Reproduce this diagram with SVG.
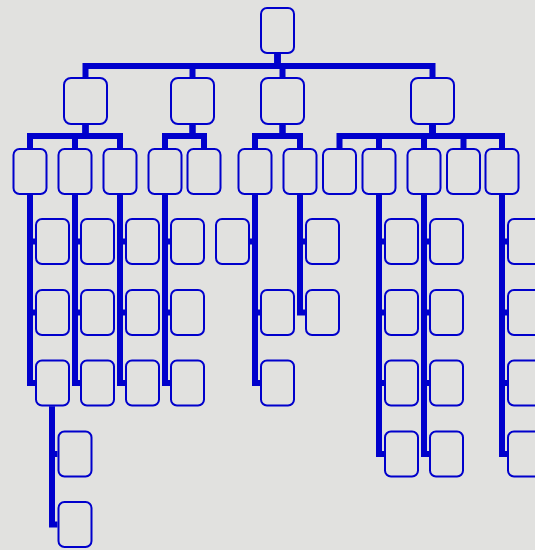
<svg xmlns="http://www.w3.org/2000/svg" width="535" height="550" viewBox="0 0 535 550">
<style>
.bg{fill:#e1e1df}
.n{fill:#e1e1df;stroke:#0000cc;stroke-width:2}
.c path{fill:none;stroke:#0000cc;stroke-width:6;stroke-linejoin:miter;stroke-linecap:butt}
</style>
<rect class="bg" x="0" y="0" width="535" height="550"/>
<g class="c" id="connectors">
<path d="M277.5,54 V66 H85.5 V77"/>
<path d="M277.5,54 V66 H192.5 V77"/>
<path d="M277.5,54 V66 H282.5 V77"/>
<path d="M277.5,54 V66 H432.5 V77"/>
<path d="M85.5,125 V136 H30 V148"/>
<path d="M85.5,125 V136 H75 V148"/>
<path d="M85.5,125 V136 H120 V148"/>
<path d="M192.5,125 V136 H165 V148"/>
<path d="M192.5,125 V136 H204 V148"/>
<path d="M282.5,125 V136 H255 V148"/>
<path d="M282.5,125 V136 H300 V148"/>
<path d="M432.5,125 V136 H339.5 V148"/>
<path d="M432.5,125 V136 H379 V148"/>
<path d="M432.5,125 V136 H424 V148"/>
<path d="M432.5,125 V136 H463.5 V148"/>
<path d="M432.5,125 V136 H502 V148"/>
<path d="M30,195 V241.5 H35"/>
<path d="M30,195 V312.5 H35"/>
<path d="M30,195 V383 H35"/>
<path d="M52,406.5 V454 H57.5"/>
<path d="M52,406.5 V524.5 H57.5"/>
<path d="M75,195 V241.5 H80"/>
<path d="M75,195 V312.5 H80"/>
<path d="M75,195 V383 H80"/>
<path d="M120,195 V241.5 H125"/>
<path d="M120,195 V312.5 H125"/>
<path d="M120,195 V383 H125"/>
<path d="M165,195 V241.5 H170"/>
<path d="M165,195 V312.5 H170"/>
<path d="M165,195 V383 H170"/>
<path d="M255,195 V241.5 H249"/>
<path d="M255,195 V312.5 H260"/>
<path d="M255,195 V383 H260"/>
<path d="M300,195 V241.5 H305"/>
<path d="M300,195 V312.5 H305"/>
<path d="M379,195 V241.5 H384"/>
<path d="M379,195 V312.5 H384"/>
<path d="M379,195 V383 H384"/>
<path d="M379,195 V454 H384"/>
<path d="M424,195 V241.5 H429"/>
<path d="M424,195 V312.5 H429"/>
<path d="M424,195 V383 H429"/>
<path d="M424,195 V454 H429"/>
<path d="M502,195 V241.5 H507"/>
<path d="M502,195 V312.5 H507"/>
<path d="M502,195 V383 H507"/>
<path d="M502,195 V454 H507"/>
</g>
<g id="root"><rect class="n" x="261" y="8" width="33" height="45" rx="6"/></g>
<g id="A"><rect class="n" x="64" y="78" width="43" height="46" rx="7"/></g>
<g id="B"><rect class="n" x="171" y="78" width="43" height="46" rx="7"/></g>
<g id="C"><rect class="n" x="261" y="78" width="43" height="46" rx="7"/></g>
<g id="D"><rect class="n" x="411" y="78" width="43" height="46" rx="7"/></g>
<g id="A1"><rect class="n" x="13.5" y="149" width="33" height="45" rx="6"/></g>
<g id="A2"><rect class="n" x="58.5" y="149" width="33" height="45" rx="6"/></g>
<g id="A3"><rect class="n" x="103.5" y="149" width="33" height="45" rx="6"/></g>
<g id="B1"><rect class="n" x="148.5" y="149" width="33" height="45" rx="6"/></g>
<g id="B2"><rect class="n" x="187.5" y="149" width="33" height="45" rx="6"/></g>
<g id="C1"><rect class="n" x="238.5" y="149" width="33" height="45" rx="6"/></g>
<g id="C2"><rect class="n" x="283.5" y="149" width="33" height="45" rx="6"/></g>
<g id="D1"><rect class="n" x="323" y="149" width="33" height="45" rx="6"/></g>
<g id="D2"><rect class="n" x="362.5" y="149" width="33" height="45" rx="6"/></g>
<g id="D3"><rect class="n" x="407.5" y="149" width="33" height="45" rx="6"/></g>
<g id="D4"><rect class="n" x="447" y="149" width="33" height="45" rx="6"/></g>
<g id="D5"><rect class="n" x="485.5" y="149" width="33" height="45" rx="6"/></g>
<g id="A1a"><rect class="n" x="36" y="219" width="33" height="45" rx="6"/></g>
<g id="A1b"><rect class="n" x="36" y="290" width="33" height="45" rx="6"/></g>
<g id="A1c"><rect class="n" x="36" y="360.5" width="33" height="45" rx="6"/></g>
<g id="A1c1"><rect class="n" x="58.5" y="431.5" width="33" height="45" rx="6"/></g>
<g id="A1c2"><rect class="n" x="58.5" y="502" width="33" height="45" rx="6"/></g>
<g id="A2a"><rect class="n" x="81" y="219" width="33" height="45" rx="6"/></g>
<g id="A2b"><rect class="n" x="81" y="290" width="33" height="45" rx="6"/></g>
<g id="A2c"><rect class="n" x="81" y="360.5" width="33" height="45" rx="6"/></g>
<g id="A3a"><rect class="n" x="126" y="219" width="33" height="45" rx="6"/></g>
<g id="A3b"><rect class="n" x="126" y="290" width="33" height="45" rx="6"/></g>
<g id="A3c"><rect class="n" x="126" y="360.5" width="33" height="45" rx="6"/></g>
<g id="B1a"><rect class="n" x="171" y="219" width="33" height="45" rx="6"/></g>
<g id="B1b"><rect class="n" x="171" y="290" width="33" height="45" rx="6"/></g>
<g id="B1c"><rect class="n" x="171" y="360.5" width="33" height="45" rx="6"/></g>
<g id="C1a"><rect class="n" x="216" y="219" width="33" height="45" rx="6"/></g>
<g id="C1b"><rect class="n" x="261" y="290" width="33" height="45" rx="6"/></g>
<g id="C1c"><rect class="n" x="261" y="360.5" width="33" height="45" rx="6"/></g>
<g id="C2a"><rect class="n" x="306" y="219" width="33" height="45" rx="6"/></g>
<g id="C2b"><rect class="n" x="306" y="290" width="33" height="45" rx="6"/></g>
<g id="D2a"><rect class="n" x="385" y="219" width="33" height="45" rx="6"/></g>
<g id="D2b"><rect class="n" x="385" y="290" width="33" height="45" rx="6"/></g>
<g id="D2c"><rect class="n" x="385" y="360.5" width="33" height="45" rx="6"/></g>
<g id="D2d"><rect class="n" x="385" y="431.5" width="33" height="45" rx="6"/></g>
<g id="D3a"><rect class="n" x="430" y="219" width="33" height="45" rx="6"/></g>
<g id="D3b"><rect class="n" x="430" y="290" width="33" height="45" rx="6"/></g>
<g id="D3c"><rect class="n" x="430" y="360.5" width="33" height="45" rx="6"/></g>
<g id="D3d"><rect class="n" x="430" y="431.5" width="33" height="45" rx="6"/></g>
<g id="D5a"><rect class="n" x="508" y="219" width="33" height="45" rx="6"/></g>
<g id="D5b"><rect class="n" x="508" y="290" width="33" height="45" rx="6"/></g>
<g id="D5c"><rect class="n" x="508" y="360.5" width="33" height="45" rx="6"/></g>
<g id="D5d"><rect class="n" x="508" y="431.5" width="33" height="45" rx="6"/></g>
</svg>
